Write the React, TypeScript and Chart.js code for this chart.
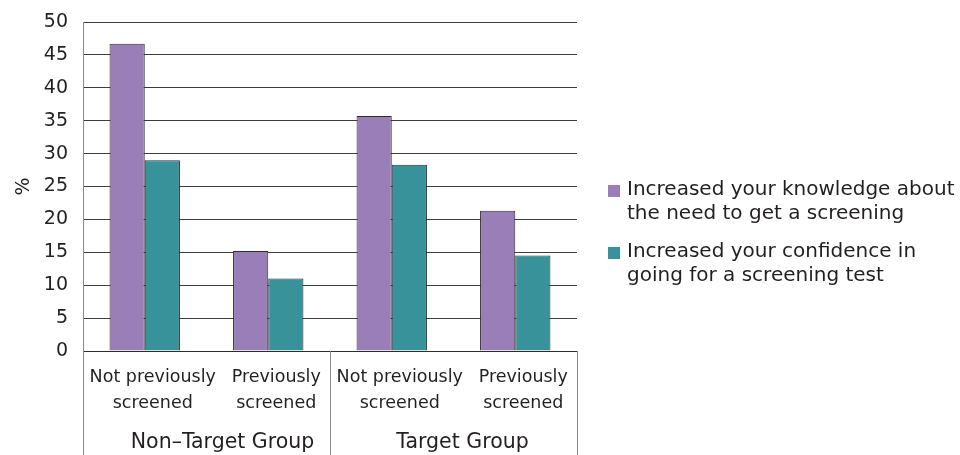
import React, { useEffect, useRef } from "react";
import { Chart, registerables } from "chart.js";

Chart.register(...registerables);

const subCategories: string[][] = [
  ["Not previously", "screened"],
  ["Previously", "screened"],
  ["Not previously", "screened"],
  ["Previously", "screened"],
];
const groupLabels = ["Non\u2013Target Group", "Target Group"];
const groupSizes = [2, 2];
const knowledge = [46.7, 15.2, 35.7, 21.3];
const confidence = [29.0, 11.0, 28.3, 14.5];
const seriesNames = [
  "Increased your knowledge about the need to get a screening",
  "Increased your confidence in going for a screening test",
];
const legendLines: string[][] = [
  ["Increased your knowledge about", "the need to get a screening"],
  ["Increased your confidence in", "going for a screening test"],
];
const yMin = 0;
const yMax = 50;
const yStep = 5;
const yTitle = "%";

const FONT = "'DejaVu Sans', 'Noto Sans', sans-serif";
const TEXT = "#231f20";
const PURPLE = "#9a7eb8";
const TEAL = "#37929a";
const GROUP_LABEL_SHIFT = [16, 9];

const groupPlugin = {
  id: "groupPlugin",
  afterDraw(chart: any) {
    const ctx = chart.ctx;
    const x = chart.scales.x;
    const bottom = chart.height;
    const top = x.top;
    ctx.save();
    ctx.strokeStyle = "#8a8a8a";
    ctx.lineWidth = 1;
    const bounds: number[] = [x.left];
    let idx = 0;
    groupSizes.forEach((n) => {
      idx += n;
      if (idx < subCategories.length) {
        bounds.push((x.getPixelForValue(idx - 1) + x.getPixelForValue(idx)) / 2);
      } else {
        bounds.push(x.right);
      }
    });
    bounds.forEach((b) => {
      const px = Math.round(b) + 0.5;
      ctx.beginPath();
      ctx.moveTo(px, top);
      ctx.lineTo(px, bottom);
      ctx.stroke();
    });
    ctx.fillStyle = TEXT;
    ctx.font = `20.5px ${FONT}`;
    ctx.textAlign = "center";
    ctx.textBaseline = "middle";
    groupLabels.forEach((g, i) => {
      const cx = (bounds[i] + bounds[i + 1]) / 2 + GROUP_LABEL_SHIFT[i];
      ctx.fillText(g, cx, top + 92);
    });
    ctx.restore();
  },
};

const legendPlugin = {
  id: "legendPlugin",
  afterDraw(chart: any) {
    const ctx = chart.ctx;
    const area = chart.chartArea;
    const colors = [PURPLE, TEAL];
    ctx.save();
    ctx.font = `20px ${FONT}`;
    ctx.textAlign = "left";
    ctx.textBaseline = "middle";
    const x0 = area.right + 31;
    const startY = 190;
    const lineH = 24;
    const gap = 14;
    let y = startY;
    legendLines.forEach((lines, i) => {
      ctx.fillStyle = colors[i];
      ctx.fillRect(x0, y - 5, 12, 12);
      ctx.fillStyle = TEXT;
      lines.forEach((ln, j) => {
        ctx.fillText(ln, x0 + 19, y + j * lineH);
      });
      y += lines.length * lineH + gap;
    });
    ctx.restore();
  },
};

export default function App() {
  const ref = useRef<HTMLCanvasElement>(null);
  useEffect(() => {
    if (!ref.current) return;
    const chart = new Chart(ref.current, {
      type: "bar",
      data: {
        labels: subCategories,
        datasets: [
          {
            label: seriesNames[0],
            data: knowledge,
            backgroundColor: PURPLE,
            borderColor: "#2e2e2e",
            borderWidth: 1,
          },
          {
            label: seriesNames[1],
            data: confidence,
            backgroundColor: TEAL,
            borderColor: "#2e2e2e",
            borderWidth: 1,
          },
        ],
      },
      options: {
        responsive: false,
        animation: false,
        layout: { padding: { top: 22, right: 383, left: 0, bottom: 0 } },
        datasets: {
          bar: { barPercentage: 1, categoryPercentage: 0.57 },
        },
        plugins: {
          legend: { display: false },
          tooltip: { enabled: false },
        },
        scales: {
          x: {
            grid: { display: false, drawTicks: false },
            border: { display: true, color: "#2e2e2e" },
            ticks: {
              color: TEXT,
              font: { family: FONT, size: 17.5, lineHeight: 1.45 },
              padding: 14,
              labelOffset: 8,
              maxRotation: 0,
              autoSkip: false,
            },
            afterFit: (s: any) => {
              s.height = 104;
            },
          },
          y: {
            min: yMin,
            max: yMax,
            grid: { color: "#3c3c3c", drawTicks: false },
            border: { display: true, color: "#8a8a8a" },
            ticks: {
              stepSize: yStep,
              color: TEXT,
              font: { family: FONT, size: 19, lineHeight: 0.5 },
              padding: 15,
            },
            title: {
              display: true,
              text: yTitle,
              color: TEXT,
              font: { family: FONT, size: 19 },
              padding: { top: 13, bottom: 0 },
            },
            afterFit: (s: any) => {
              s.width = 83;
            },
          },
        },
      },
      plugins: [groupPlugin, legendPlugin],
    });
    return () => chart.destroy();
  }, []);
  return (
    <div style={{ position: "absolute", left: 0, top: 0, width: 960, height: 455, background: "#fff" }}>
      <canvas ref={ref} width={960} height={455} style={{ display: "block" }} />
    </div>
  );
}
